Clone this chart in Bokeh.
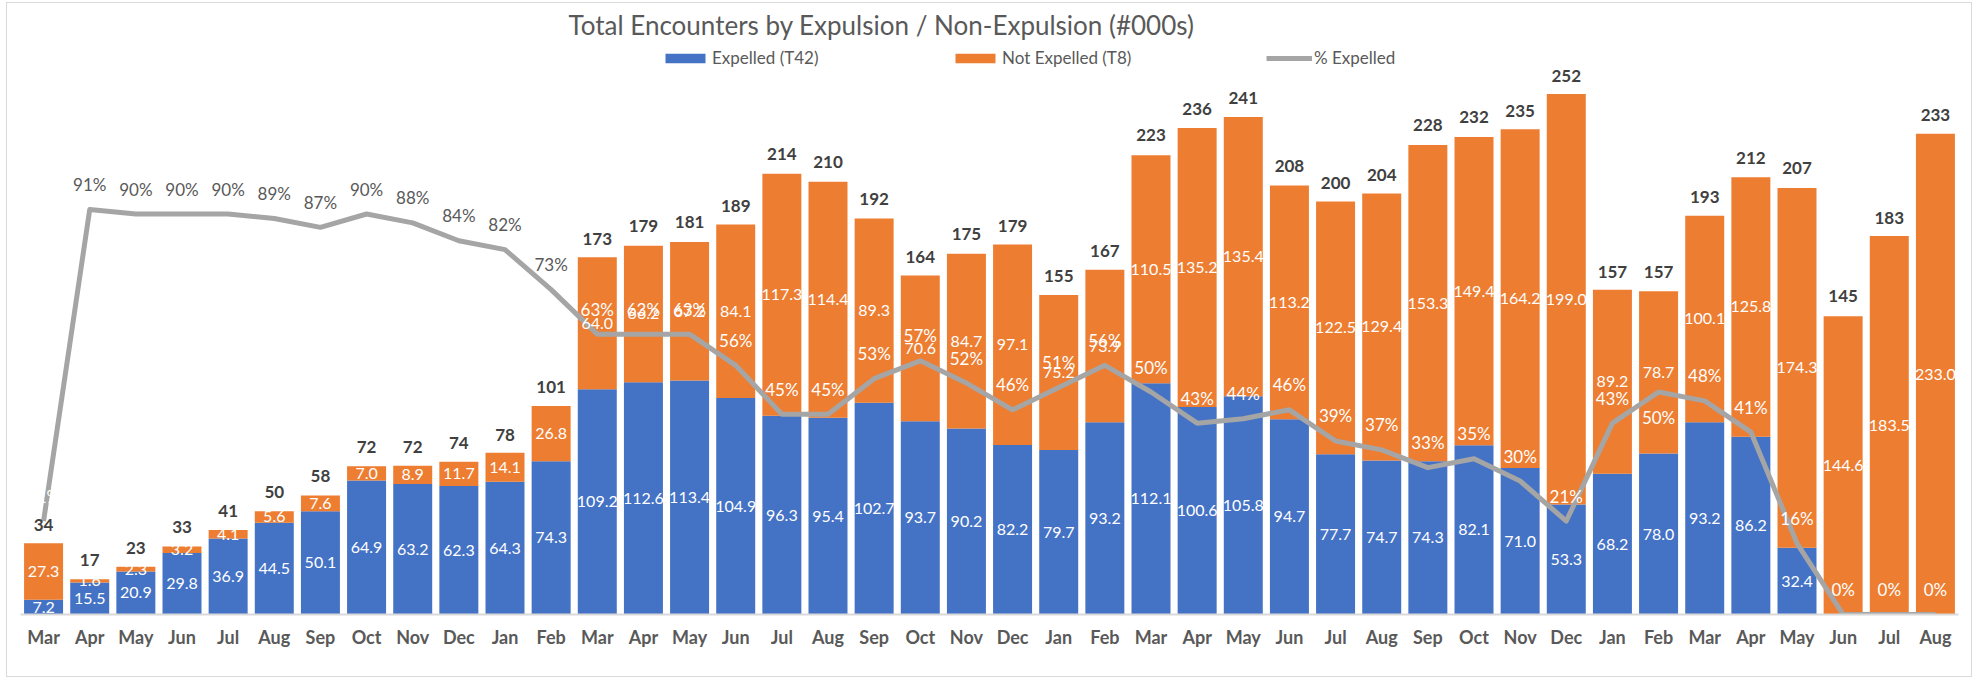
from bokeh.plotting import figure
from bokeh.models import ColumnDataSource, Range1d, FixedTicker, Label, Legend, LegendItem
from bokeh.core.properties import value
from bokeh.embed import file_html
from bokeh.resources import INLINE

# ---------------- data (thousands of encounters) ----------------
months = ["Mar", "Apr", "May", "Jun", "Jul", "Aug", "Sep", "Oct", "Nov", "Dec", "Jan", "Feb",
          "Mar", "Apr", "May", "Jun", "Jul", "Aug", "Sep", "Oct", "Nov", "Dec", "Jan", "Feb",
          "Mar", "Apr", "May", "Jun", "Jul", "Aug", "Sep", "Oct", "Nov", "Dec", "Jan", "Feb",
          "Mar", "Apr", "May", "Jun", "Jul", "Aug"]
expelled = [7.2, 15.5, 20.9, 29.8, 36.9, 44.5, 50.1, 64.9, 63.2, 62.3, 64.3, 74.3,
            109.2, 112.6, 113.4, 104.9, 96.3, 95.4, 102.7, 93.7, 90.2, 82.2, 79.7, 93.2,
            112.1, 100.6, 105.8, 94.7, 77.7, 74.7, 74.3, 82.1, 71.0, 53.3, 68.2, 78.0,
            93.2, 86.2, 32.4, 0.0, 0.0, 0.0]
not_expelled = [27.3, 1.6, 2.3, 3.2, 4.1, 5.6, 7.6, 7.0, 8.9, 11.7, 14.1, 26.8,
                64.0, 66.2, 67.2, 84.1, 117.3, 114.4, 89.3, 70.6, 84.7, 97.1, 75.2, 73.9,
                110.5, 135.2, 135.4, 113.2, 122.5, 129.4, 153.3, 149.4, 164.2, 199.0, 89.2, 78.7,
                100.1, 125.8, 174.3, 144.6, 183.5, 233.0]
totals = [34, 17, 23, 33, 41, 50, 58, 72, 72, 74, 78, 101,
          173, 179, 181, 189, 214, 210, 192, 164, 175, 179, 155, 167,
          223, 236, 241, 208, 200, 204, 228, 232, 235, 252, 157, 157,
          193, 212, 207, 145, 183, 233]
pct_expelled = [21, 91, 90, 90, 90, 89, 87, 90, 88, 84, 82, 73,
                63, 63, 63, 56, 45, 45, 53, 57, 52, 46, 51, 56,
                50, 43, 44, 46, 39, 37, 33, 35, 30, 21, 43, 50,
                48, 41, 16, 0, 0, 0]

# ---------------- style ----------------
BLUE, ORANGE, GRAY = "#4472C4", "#ED7D31", "#A5A5A5"
TEXT, DARK = "#595959", "#404040"
FONT = "Lato"

W, H = 1964, 673
FRAME_H = 606
PX_PER_UNIT = 2.063
UNITS_PER_100PCT = 215.7
y_max = FRAME_H / PX_PER_UNIT
pct_max = y_max / UNITS_PER_100PCT

n = len(months)
xs = list(range(n))
pct = [v / 100 for v in pct_expelled]
# percent labels sit above the line, except Feb 2023 which sits below it
pct_offsets = [-25] * n
pct_offsets[35] = 25

p = figure(width=W, height=H, x_range=Range1d(-0.5, n - 0.5), y_range=Range1d(0, y_max),
           output_backend="svg", toolbar_location=None, y_axis_location=None,
           min_border_left=13, min_border_right=13, min_border_top=5, min_border_bottom=62,
           outline_line_color=None, background_fill_color="white", border_fill_color="white")
p.styles = {"margin-left": "7px", "margin-top": "3px", "outline": "1px solid #D9D9D9"}
p.extra_y_ranges = {"pct": Range1d(0, pct_max)}
p.grid.visible = False

src = ColumnDataSource(dict(x=xs, exp=expelled, nexp=not_expelled, total=totals, pct=pct,
                            pct_txt=[f"{v}%" for v in pct_expelled],
                            pct_col=[TEXT if v >= 70 else "white" for v in pct_expelled],
                            pct_off=pct_offsets,
                            tot_txt=[str(v) for v in totals]))

bars = p.vbar_stack(["exp", "nexp"], x="x", width=0.845, color=[BLUE, ORANGE],
                    line_color=None, source=src)
line = p.line("x", "pct", source=src, y_range_name="pct", line_color=GRAY,
              line_width=5, line_join="round")

# segment labels
exp_src = ColumnDataSource(dict(
    x=[i for i in xs if expelled[i] > 0],
    y=[expelled[i] / 2 for i in xs if expelled[i] > 0],
    t=[f"{expelled[i]:.1f}" for i in xs if expelled[i] > 0]))
nexp_src = ColumnDataSource(dict(
    x=xs,
    y=[expelled[i] + not_expelled[i] / 2 for i in xs],
    t=[f"{v:.1f}" for v in not_expelled]))
for s in (exp_src, nexp_src):
    p.text(x="x", y="y", text="t", source=s, text_color="white", text_font=value(FONT),
           text_font_size="16px", text_align="center", text_baseline="middle")

# percent labels
p.text(x="x", y="pct", text="pct_txt", source=src, y_range_name="pct", y_offset="pct_off",
       text_color="pct_col", text_font=value(FONT), text_font_size="17px",
       text_align="center", text_baseline="middle")

# total labels
p.text(x="x", y="total", text="tot_txt", source=src, y_offset=-19, text_color=DARK,
       text_font=value(FONT), text_font_style="bold", text_font_size="17px",
       text_align="center", text_baseline="middle")

# x axis
ax = p.xaxis[0]
ax.ticker = FixedTicker(ticks=xs)
ax.major_label_overrides = {i: m for i, m in enumerate(months)}
ax.axis_line_color = "#D9D9D9"
ax.axis_line_width = 2
ax.major_tick_line_color = None
ax.minor_tick_line_color = None
ax.major_label_standoff = 5
ax.major_label_text_font = FONT
ax.major_label_text_font_style = "bold"
ax.major_label_text_font_size = "18px"
ax.major_label_text_color = TEXT

# title
p.add_layout(Label(x=18.16, y=(FRAME_H - 16) / PX_PER_UNIT,
                   text="Total Encounters by Expulsion / Non-Expulsion (#000s)",
                   text_font=FONT, text_font_size="26px", text_color=TEXT,
                   text_align="center", text_baseline="middle"))

# legend (one block per entry, positioned like the original)
common = dict(orientation="horizontal", glyph_height=12, label_standoff=2, padding=0, margin=0,
              border_line_color=None, background_fill_alpha=0, label_text_font=FONT,
              label_text_font_size="17px", label_text_color=TEXT)
for lab, rend, loc, gw in [("Expelled (T42)", bars[0], (640, 546), 50),
                           ("Not Expelled (T8)", bars[1], (930, 546), 50),
                           ("% Expelled", line, (1246, 546), 46)]:
    p.add_layout(Legend(items=[LegendItem(label=lab, renderers=[rend])], location=loc,
                        glyph_width=gw, **common))

open("out.html", "w").write(file_html(p, INLINE))
